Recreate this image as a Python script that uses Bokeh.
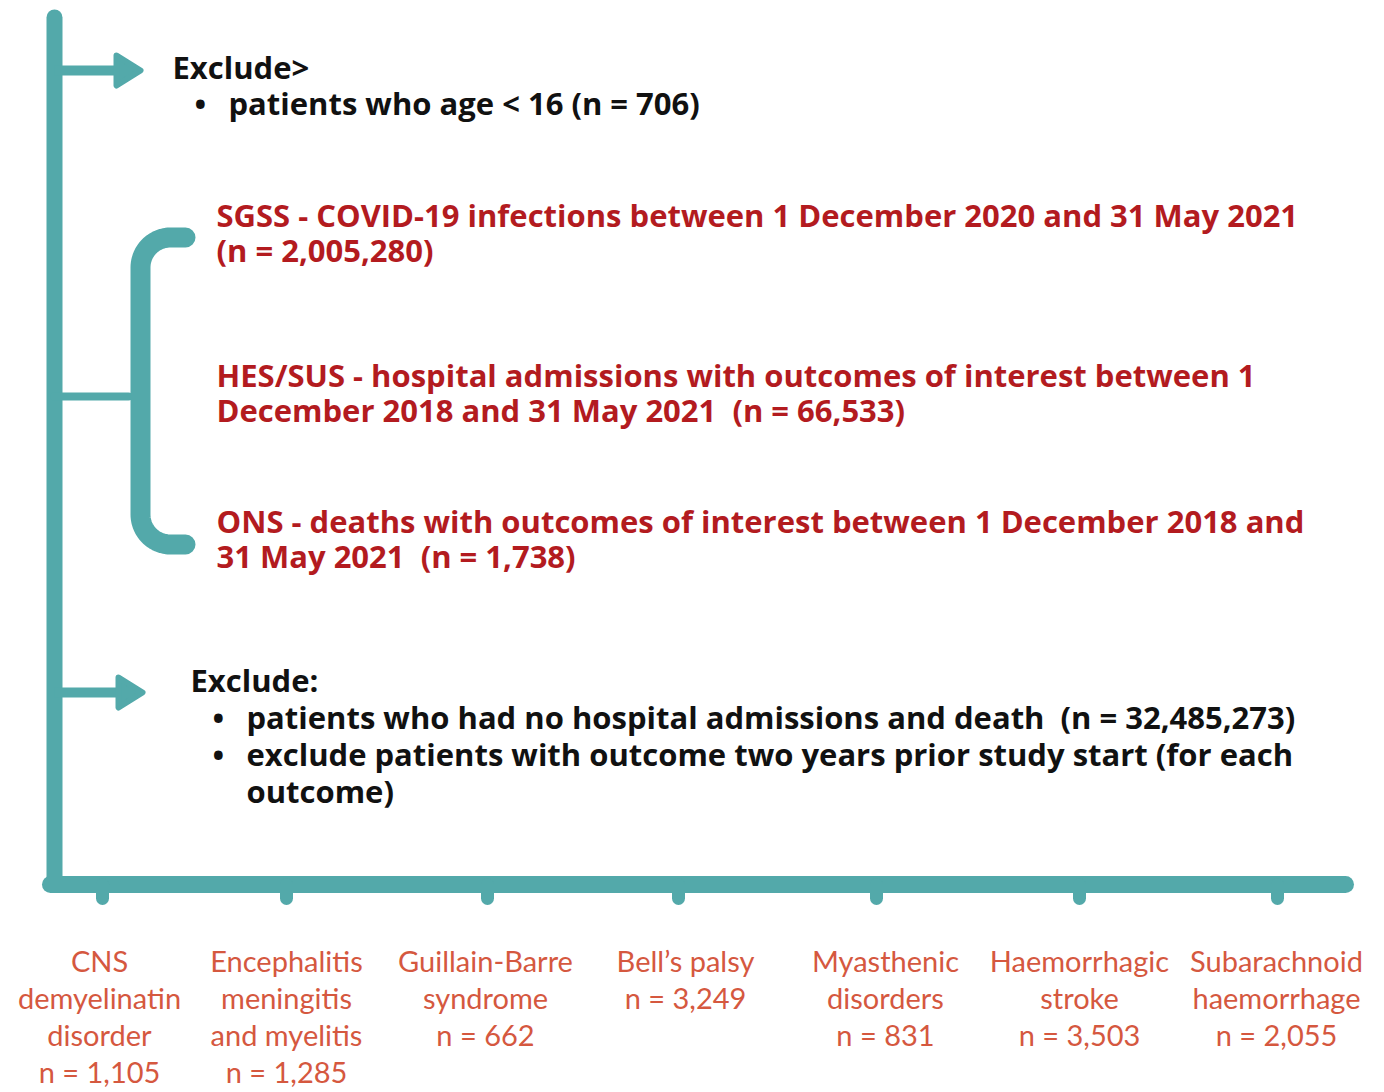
import numpy as np
from bokeh.plotting import figure
from bokeh.models import Range1d
from bokeh.embed import file_html
from bokeh.resources import INLINE
from bokeh.core.properties import value

# ---------------- data ----------------
first_exclusion_title = "Exclude>"
first_exclusion_items = ["patients who age < 16 (n = 706)"]

source_lines = [
    ["SGSS - COVID-19 infections between 1 December 2020 and 31 May 2021",
     "(n = 2,005,280)"],
    ["HES/SUS - hospital admissions with outcomes of interest between 1",
     "December 2018 and 31 May 2021 \u00a0(n = 66,533)"],
    ["ONS - deaths with outcomes of interest between 1 December 2018 and",
     "31 May 2021 \u00a0(n = 1,738)"],
]

second_exclusion_title = "Exclude:"
second_exclusion_items = [
    ["patients who had no hospital admissions and death \u00a0(n = 32,485,273)"],
    ["exclude patients with outcome two years prior study start (for each",
     "outcome)"],
]

outcome_names = [
    ["CNS", "demyelinatin", "disorder"],
    ["Encephalitis", "meningitis", "and myelitis"],
    ["Guillain-Barre", "syndrome"],
    ["Bell\u2019s palsy"],
    ["Myasthenic", "disorders"],
    ["Haemorrhagic", "stroke"],
    ["Subarachnoid", "haemorrhage"],
]
outcome_counts = [1105, 1285, 662, 3249, 831, 3503, 2055]

# ---------------- style / layout ----------------
TEAL = "#53a9aa"
RED = "#b31b1f"
SALMON = "#d5583f"
BLACK = "#111111"
MAIN_FONT = "Open Sans"
MAIN_SIZE = "31px"
LABEL_FONT = "Lato"
LABEL_SIZE = "29px"

W, H = 1384, 1092
p = figure(width=W, height=H, x_range=Range1d(0, W), y_range=Range1d(H, 0),
           output_backend="svg", toolbar_location=None, min_border=0,
           x_axis_type=None, y_axis_type=None)
p.grid.visible = False
p.outline_line_color = None
p.background_fill_color = "white"
p.border_fill_color = "white"

# main spine
X0 = 54
Y_BOTTOM = 884
p.line([X0, X0], [17, Y_BOTTOM], line_color=TEAL, line_width=16, line_cap="round")
p.line([X0 - 4, 1345], [Y_BOTTOM, Y_BOTTOM], line_color=TEAL, line_width=17, line_cap="round")


def arrow(y, x_end):
    p.line([X0, x_end - 20], [y, y], line_color=TEAL, line_width=10)
    p.patch([x_end - 24, x_end, x_end - 24], [y - 15, y, y + 15], fill_color=TEAL,
            line_color=TEAL, line_width=6, line_join="round")


arrow(70, 140)
arrow(692, 142)

# bracket connector and bracket
p.line([X0, 128], [396, 396], line_color=TEAL, line_width=8, line_cap="round")
bx, top, bot, right, r = 140, 237, 544, 185, 30
t = np.linspace(0, np.pi / 2, 24)
top_arc_x = (bx + r) - r * np.sin(t)
top_arc_y = (top + r) - r * np.cos(t)
bot_arc_x = (bx + r) - r * np.cos(t)
bot_arc_y = (bot - r) + r * np.sin(t)
bxs = np.concatenate([[right], top_arc_x, bot_arc_x, [right]])
bys = np.concatenate([[top], top_arc_y, bot_arc_y, [bot]])
p.line(bxs, bys, line_color=TEAL, line_width=20, line_cap="round", line_join="round")


def txt(xs, ys, texts, color, font, size, style="bold", align="left"):
    p.text(x=xs, y=ys, text=texts, text_color=color, text_font=value(font),
           text_font_size=size, text_font_style=style, text_align=align,
           text_baseline="middle")


# first exclusion
txt([172], [66], [first_exclusion_title], BLACK, MAIN_FONT, MAIN_SIZE)
for i, item in enumerate(first_exclusion_items):
    y = 102 + i * 37
    txt([194], [y], ["\u2022"], BLACK, MAIN_FONT, MAIN_SIZE)
    txt([228], [y], [item], BLACK, MAIN_FONT, MAIN_SIZE)

# data sources
source_y = [214, 374, 520]
for y0, lines in zip(source_y, source_lines):
    ys = [y0 + k * 35 for k in range(len(lines))]
    txt([216] * len(lines), ys, lines, RED, MAIN_FONT, MAIN_SIZE)

# second exclusion
txt([190], [679], [second_exclusion_title], BLACK, MAIN_FONT, MAIN_SIZE)
y = 716
for item in second_exclusion_items:
    txt([212], [y], ["\u2022"], BLACK, MAIN_FONT, MAIN_SIZE)
    for k, line in enumerate(item):
        txt([246], [y + k * 37], [line], BLACK, MAIN_FONT, MAIN_SIZE)
    y += 37 * len(item)

# outcome ticks and labels
tick_x = [102, 286, 487, 678, 876, 1079, 1277]
label_x = [99, 286, 485, 685, 885, 1079, 1276]
for tx in tick_x:
    p.line([tx, tx], [Y_BOTTOM, 898], line_color=TEAL, line_width=13, line_cap="round")

for lx, names, n in zip(label_x, outcome_names, outcome_counts):
    lines = names + [f"n = {n:,}"]
    ys = [960 + k * 37 for k in range(len(lines))]
    txt([lx] * len(lines), ys, lines, SALMON, LABEL_FONT, LABEL_SIZE,
        style="normal", align="center")

open("out.html", "w").write(file_html(p, INLINE))
